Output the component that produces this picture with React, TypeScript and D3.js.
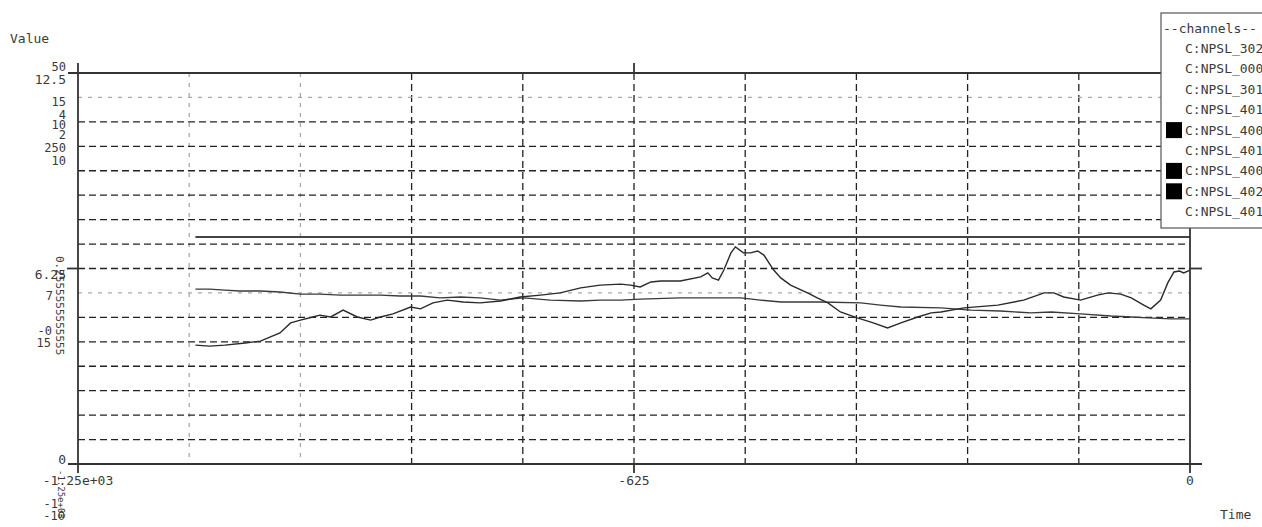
import React from 'react';
import * as d3 from 'd3';

// svg size and plot box
const svgWidth = 1262;
const svgHeight = 527;
const plotLeft = 78;
const plotRight = 1190;
const plotTop = 73;
const plotBottom = 464;
const fontFamily = '"DejaVu Sans Mono", monospace';
const inkColor = '#3a3a3a';

// legend
const channels = ['C:NPSL_302', 'C:NPSL_000', 'C:NPSL_301', 'C:NPSL_401', 'C:NPSL_400',
  'C:NPSL_401', 'C:NPSL_400', 'C:NPSL_402', 'C:NPSL_401'];
const channelMarked = [false, false, false, false, true, false, true, true, false];

// axis ticks
const xTicks = [-1250, -625, 0];
const xTickLabels = ['-1.25e+03', '-625', '0'];
const yMainTicks = [12.5, 6.25, 0];
const yMainLabels = ['12.5', '6.25', '0'];

// overlapping labels of the other channels' axes (left side)
const stackLabels = ['50', '15', '4', '10', '2', '250', '10', '7', '-0', '15', '-1', '-10'];

// constant channel
const constTime = [-1118, 0];
const constValue = [7.26, 7.26];

// slowly falling channel
const flatTime = [-1118, -1102, -1085, -1068, -1045, -1023, -1000, -978, -955, -933, -910, -888,
  -865, -843, -820, -798, -775, -749, -719, -685, -663, -640, -618, -573, -550, -505, -483, -460,
  -415, -370, -348, -325, -280, -246, -213, -179, -156, -123, -89, -66, -47, -21, 0];
const flatValue = [5.59, 5.59, 5.56, 5.53, 5.53, 5.50, 5.43, 5.43, 5.40, 5.40, 5.40, 5.37,
  5.37, 5.31, 5.34, 5.31, 5.24, 5.31, 5.24, 5.21, 5.24, 5.24, 5.27, 5.31, 5.31, 5.31, 5.24, 5.18,
  5.18, 5.15, 5.08, 5.02, 4.99, 4.92, 4.89, 4.83, 4.86, 4.80, 4.73, 4.70, 4.67, 4.64, 4.64];

// rising channel with the peak
const riseTime = [-1118, -1102, -1085, -1062, -1045, -1023, -1011, -1000, -986, -978, -966, -952,
  -936, -921, -910, -896, -876, -865, -851, -835, -817, -798, -775, -753, -730, -708, -685, -663,
  -640, -629, -618, -606, -595, -573, -550, -542, -537, -530, -524, -516, -511, -502, -494, -486,
  -479, -468, -460, -449, -430, -419, -407, -393, -374, -356, -340, -325, -306, -291, -280, -254,
  -216, -187, -164, -153, -142, -123, -104, -92, -78, -66, -52, -44, -33, -25, -18, -12, -7, 0];
const riseValue = [3.80, 3.77, 3.80, 3.87, 3.93, 4.19, 4.51, 4.60, 4.70, 4.76, 4.70, 4.92,
  4.70, 4.60, 4.70, 4.80, 5.02, 4.96, 5.15, 5.24, 5.18, 5.15, 5.21, 5.34, 5.40, 5.47, 5.63, 5.72,
  5.75, 5.72, 5.66, 5.82, 5.85, 5.85, 5.98, 6.11, 5.95, 5.88, 6.20, 6.75, 6.94, 6.75, 6.75, 6.81,
  6.68, 6.20, 5.95, 5.72, 5.47, 5.31, 5.15, 4.86, 4.67, 4.51, 4.35, 4.51, 4.70, 4.83, 4.86, 4.99,
  5.08, 5.24, 5.47, 5.47, 5.34, 5.24, 5.40, 5.47, 5.43, 5.31, 5.08, 4.96, 5.24, 5.79, 6.14, 6.17, 6.11, 6.20];

const xScale = d3.scaleLinear().domain([-1250, 0]).range([plotLeft, plotRight]);
const yScale = d3.scaleLinear().domain([0, 12.5]).range([plotBottom, plotTop]);

const lineGen = d3.line<[number, number]>()
  .x(d => xScale(d[0]))
  .y(d => yScale(d[1]));

const zip = (t: number[], v: number[]) => t.map((d, i) => [d, v[i]] as [number, number]);

// grid steps
const vGrid = d3.range(1, 10).map(i => -1250 + i * 125);
const hGrid = d3.range(1, 16).map(i => i * 12.5 / 16);

// where the stacked labels sit (right edge x, centre y)
const stackPos = [[66, 67], [66, 102], [66, 115], [66, 125], [66, 135], [66, 148], [66, 161],
  [53, 296], [52, 331], [51, 343], [58, 504], [65, 516]];

export default function App() {
  const textProps = { fontFamily, fontSize: 13, fill: inkColor };

  return (
    <svg width={svgWidth} height={svgHeight}
      style={{ position: 'absolute', left: 0, top: 0, background: '#fff' }}>

      {/* grid */}
      {vGrid.map((t, i) => (
        <line key={'v' + i} x1={xScale(t)} x2={xScale(t)} y1={plotTop} y2={plotBottom}
          stroke={i < 2 ? '#aaa' : '#222'} strokeWidth={1.3}
          strokeDasharray={i < 2 ? '4,6' : '7,4'} />
      ))}
      {hGrid.map((v, i) => {
        const light = i === 6 || i === 14;
        return (
          <line key={'h' + i} x1={plotLeft} x2={plotRight} y1={yScale(v)} y2={yScale(v)}
            stroke={light ? '#aaa' : '#222'} strokeWidth={1.3}
            strokeDasharray={light ? '4,6' : '7,4'} />
        );
      })}

      {/* series */}
      <path d={lineGen(zip(constTime, constValue)) || ''} fill="none" stroke="#444" strokeWidth={2} />
      <path d={lineGen(zip(flatTime, flatValue)) || ''} fill="none" stroke="#3a3a3a" strokeWidth={1.4} />
      <path d={lineGen(zip(riseTime, riseValue)) || ''} fill="none" stroke="#2a2a2a" strokeWidth={1.4} />

      {/* frame and ticks */}
      <g stroke="#333" strokeWidth={1.8}>
        <line x1={plotLeft} x2={plotLeft} y1={plotTop - 10} y2={plotBottom + 9} />
        <line x1={plotRight} x2={plotRight} y1={plotTop - 10} y2={plotBottom + 9} />
        <line x1={plotLeft - 10} x2={plotRight + 12} y1={plotTop} y2={plotTop} />
        <line x1={plotLeft - 10} x2={plotRight + 12} y1={plotBottom} y2={plotBottom} />
        <line x1={plotLeft - 11} x2={plotLeft} y1={yScale(6.25)} y2={yScale(6.25)} />
        <line x1={plotRight} x2={plotRight + 12} y1={yScale(6.25)} y2={yScale(6.25)} />
        <line x1={xScale(-625)} x2={xScale(-625)} y1={plotTop - 10} y2={plotTop} />
        <line x1={xScale(-625)} x2={xScale(-625)} y1={plotBottom} y2={plotBottom + 9} />
      </g>

      {/* axis titles */}
      <text {...textProps} x={10} y={43}>Value</text>
      <text {...textProps} x={1220} y={519}>Time</text>

      {/* x tick labels */}
      {xTicks.map((t, i) => (
        <text key={'xt' + i} {...textProps} x={xScale(t)} y={485} textAnchor="middle">{xTickLabels[i]}</text>
      ))}

      {/* y tick labels */}
      {yMainTicks.map((v, i) => (
        <text key={'yt' + i} {...textProps} x={66} y={yScale(v) + (i === 2 ? -5 : 6)}
          textAnchor="end" dominantBaseline="central">{yMainLabels[i]}</text>
      ))}
      {stackLabels.map((s, i) => (
        <text key={'st' + i} {...textProps} fontSize={12} x={stackPos[i][0]} y={stackPos[i][1]}
          textAnchor="end" dominantBaseline="central">{s}</text>
      ))}
      <text {...textProps} fontSize={11} transform="translate(56,256) rotate(90)">0.2555555555555</text>
      <text {...textProps} fontSize={9} transform="translate(58,470) rotate(90)">-1.25e+03</text>

      {/* legend */}
      <rect x={1161} y={13} width={130} height={215} fill="#fff" stroke="#555" strokeWidth={1.2} />
      <text {...textProps} x={1163} y={28} dominantBaseline="central">--channels--</text>
      {channels.map((c, i) => {
        const cy = 48.5 + i * 20.4;
        return (
          <g key={'lg' + i}>
            {channelMarked[i] && <rect x={1166} y={cy - 8} width={16} height={16} fill="#000" />}
            <text {...textProps} x={1185} y={cy} dominantBaseline="central">{c}</text>
          </g>
        );
      })}
    </svg>
  );
}
